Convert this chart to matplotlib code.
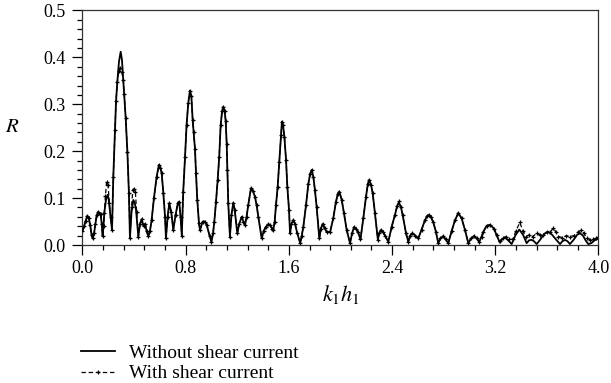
import matplotlib
matplotlib.use("Agg")
import matplotlib.pyplot as plt
from matplotlib.ticker import MultipleLocator, FormatStrFormatter

# ---- data ----
k_without = [
    0.000, 0.012, 0.025, 0.037, 0.048, 0.060, 0.070, 0.079, 0.090, 0.100,
    0.110, 0.123, 0.133, 0.141, 0.149, 0.156, 0.163, 0.169, 0.182, 0.195,
    0.202, 0.208, 0.218, 0.229, 0.239, 0.252, 0.260, 0.270, 0.283, 0.296,
    0.306, 0.316, 0.324, 0.335, 0.348, 0.360, 0.368, 0.380, 0.394, 0.405,
    0.415, 0.433, 0.446, 0.459, 0.473, 0.485, 0.497, 0.510, 0.523, 0.536,
    0.554, 0.575, 0.593, 0.604, 0.614, 0.627, 0.640, 0.647, 0.660, 0.673,
    0.688, 0.704, 0.722, 0.740, 0.750, 0.760, 0.770, 0.781, 0.795, 0.807,
    0.820, 0.833, 0.844, 0.854, 0.862, 0.872, 0.880, 0.890, 0.903, 0.911,
    0.932, 0.948, 0.963, 0.985, 1.000, 1.012, 1.022, 1.035, 1.048, 1.060,
    1.071, 1.082, 1.092, 1.102, 1.110, 1.118, 1.123, 1.130, 1.143, 1.155,
    1.169, 1.180, 1.200, 1.215, 1.234, 1.248, 1.260, 1.272, 1.285, 1.306,
    1.320, 1.337, 1.350, 1.363, 1.389, 1.405, 1.422, 1.440, 1.453, 1.470,
    1.479, 1.490, 1.500, 1.513, 1.526, 1.539, 1.546, 1.555, 1.565, 1.578,
    1.588, 1.601, 1.609, 1.620, 1.634, 1.648, 1.665, 1.688, 1.700, 1.712,
    1.733, 1.751, 1.765, 1.777, 1.790, 1.802, 1.815, 1.836, 1.848, 1.862,
    1.877, 1.893, 1.919, 1.944, 1.965, 1.978, 1.991, 2.009, 2.027, 2.048,
    2.074, 2.090, 2.105, 2.120, 2.135, 2.155, 2.177, 2.198, 2.212, 2.223,
    2.237, 2.250, 2.267, 2.290, 2.300, 2.314, 2.330, 2.345, 2.371, 2.397,
    2.422, 2.440, 2.453, 2.468, 2.482, 2.508, 2.526, 2.540, 2.557, 2.580,
    2.603, 2.629, 2.655, 2.672, 2.686, 2.700, 2.719, 2.740, 2.758, 2.775,
    2.797, 2.815, 2.836, 2.862, 2.888, 2.913, 2.939, 2.965, 2.991, 3.012,
    3.035, 3.055, 3.076, 3.094, 3.107, 3.133, 3.160, 3.190, 3.210, 3.236,
    3.255, 3.275, 3.300, 3.327, 3.355, 3.386, 3.415, 3.443, 3.462, 3.482,
    3.500, 3.521, 3.550, 3.580, 3.611, 3.640, 3.670, 3.702, 3.720, 3.740,
    3.760, 3.779, 3.810, 3.835, 3.857, 3.880, 3.900, 3.921, 3.945, 3.970,
    4.000,
]
r_without = [
    0.030, 0.040, 0.052, 0.062, 0.058, 0.042, 0.022, 0.014, 0.025, 0.045,
    0.063, 0.071, 0.066, 0.066, 0.045, 0.019, 0.040, 0.068, 0.096, 0.107,
    0.100, 0.085, 0.060, 0.032, 0.146, 0.245, 0.306, 0.348, 0.391, 0.412,
    0.395, 0.352, 0.321, 0.270, 0.199, 0.110, 0.014, 0.070, 0.096, 0.090,
    0.075, 0.018, 0.045, 0.055, 0.040, 0.045, 0.030, 0.019, 0.030, 0.053,
    0.100, 0.146, 0.171, 0.165, 0.153, 0.110, 0.060, 0.014, 0.060, 0.089,
    0.070, 0.032, 0.065, 0.090, 0.092, 0.060, 0.020, 0.114, 0.188, 0.256,
    0.303, 0.329, 0.318, 0.267, 0.240, 0.205, 0.153, 0.096, 0.046, 0.032,
    0.050, 0.050, 0.043, 0.020, 0.007, 0.025, 0.050, 0.092, 0.139, 0.188,
    0.255, 0.285, 0.295, 0.285, 0.265, 0.215, 0.160, 0.089, 0.018, 0.065,
    0.090, 0.075, 0.025, 0.045, 0.060, 0.050, 0.043, 0.060, 0.085, 0.121,
    0.116, 0.103, 0.085, 0.060, 0.014, 0.030, 0.039, 0.044, 0.043, 0.035,
    0.032, 0.050, 0.085, 0.124, 0.178, 0.235, 0.263, 0.255, 0.231, 0.181,
    0.124, 0.075, 0.025, 0.045, 0.053, 0.045, 0.025, 0.004, 0.020, 0.039,
    0.085, 0.131, 0.152, 0.160, 0.145, 0.117, 0.082, 0.014, 0.035, 0.045,
    0.036, 0.028, 0.027, 0.057, 0.092, 0.108, 0.114, 0.097, 0.068, 0.032,
    0.004, 0.025, 0.038, 0.035, 0.028, 0.012, 0.057, 0.103, 0.130, 0.139,
    0.128, 0.110, 0.068, 0.011, 0.025, 0.032, 0.028, 0.020, 0.007, 0.039,
    0.064, 0.084, 0.090, 0.082, 0.064, 0.025, 0.007, 0.020, 0.025, 0.020,
    0.014, 0.033, 0.053, 0.062, 0.064, 0.060, 0.049, 0.028, 0.004, 0.014,
    0.019, 0.012, 0.004, 0.030, 0.053, 0.068, 0.057, 0.032, 0.004, 0.014,
    0.019, 0.014, 0.007, 0.018, 0.028, 0.041, 0.043, 0.035, 0.021, 0.005,
    0.013, 0.016, 0.010, 0.002, 0.020, 0.033, 0.022, 0.004, 0.010, 0.011,
    0.008, 0.002, 0.012, 0.024, 0.028, 0.022, 0.012, 0.002, 0.008, 0.011,
    0.008, 0.002, 0.012, 0.022, 0.025, 0.020, 0.010, 0.002, 0.004, 0.010,
    0.014,
]

k_with = [
    0.000, 0.012, 0.025, 0.037, 0.048, 0.060, 0.070, 0.079, 0.090, 0.100,
    0.110, 0.123, 0.133, 0.141, 0.149, 0.156, 0.163, 0.169, 0.178, 0.187,
    0.198, 0.208, 0.218, 0.229, 0.239, 0.252, 0.260, 0.270, 0.281, 0.292,
    0.305, 0.316, 0.324, 0.335, 0.348, 0.360, 0.368, 0.380, 0.390, 0.400,
    0.410, 0.420, 0.433, 0.446, 0.459, 0.473, 0.485, 0.497, 0.510, 0.523,
    0.536, 0.554, 0.575, 0.593, 0.604, 0.614, 0.627, 0.640, 0.647, 0.660,
    0.673, 0.688, 0.704, 0.722, 0.740, 0.750, 0.760, 0.770, 0.781, 0.795,
    0.807, 0.820, 0.833, 0.844, 0.854, 0.862, 0.872, 0.880, 0.890, 0.903,
    0.911, 0.932, 0.948, 0.963, 0.985, 1.000, 1.012, 1.022, 1.035, 1.048,
    1.060, 1.071, 1.082, 1.092, 1.102, 1.110, 1.118, 1.123, 1.130, 1.143,
    1.155, 1.169, 1.180, 1.200, 1.215, 1.234, 1.248, 1.260, 1.272, 1.285,
    1.306, 1.320, 1.337, 1.350, 1.363, 1.389, 1.405, 1.422, 1.440, 1.453,
    1.470, 1.479, 1.490, 1.500, 1.513, 1.526, 1.539, 1.546, 1.555, 1.565,
    1.578, 1.588, 1.601, 1.609, 1.620, 1.634, 1.648, 1.665, 1.688, 1.700,
    1.712, 1.733, 1.751, 1.765, 1.777, 1.790, 1.802, 1.815, 1.836, 1.848,
    1.862, 1.877, 1.893, 1.919, 1.944, 1.965, 1.978, 1.991, 2.009, 2.027,
    2.048, 2.074, 2.090, 2.105, 2.120, 2.135, 2.155, 2.177, 2.198, 2.212,
    2.223, 2.237, 2.250, 2.267, 2.290, 2.300, 2.314, 2.330, 2.345, 2.371,
    2.397, 2.422, 2.440, 2.453, 2.468, 2.482, 2.508, 2.526, 2.540, 2.557,
    2.580, 2.603, 2.629, 2.655, 2.672, 2.686, 2.700, 2.719, 2.740, 2.758,
    2.775, 2.797, 2.815, 2.836, 2.862, 2.888, 2.913, 2.939, 2.965, 2.991,
    3.012, 3.035, 3.055, 3.076, 3.094, 3.107, 3.133, 3.160, 3.190, 3.210,
    3.236, 3.260, 3.285, 3.310, 3.335, 3.360, 3.390, 3.415, 3.440, 3.465,
    3.490, 3.520, 3.545, 3.572, 3.598, 3.625, 3.649, 3.670, 3.690, 3.720,
    3.752, 3.780, 3.810, 3.843, 3.862, 3.885, 3.910, 3.934, 3.960, 3.980,
    4.000,
]
r_with = [
    0.030, 0.040, 0.052, 0.062, 0.058, 0.042, 0.022, 0.014, 0.025, 0.045,
    0.063, 0.071, 0.066, 0.066, 0.045, 0.019, 0.040, 0.068, 0.105, 0.135,
    0.128, 0.090, 0.060, 0.032, 0.146, 0.245, 0.306, 0.348, 0.372, 0.378,
    0.368, 0.352, 0.321, 0.270, 0.199, 0.110, 0.014, 0.080, 0.117, 0.120,
    0.113, 0.070, 0.018, 0.045, 0.055, 0.040, 0.045, 0.030, 0.019, 0.030,
    0.053, 0.100, 0.146, 0.171, 0.165, 0.153, 0.110, 0.060, 0.014, 0.060,
    0.089, 0.070, 0.032, 0.065, 0.090, 0.092, 0.060, 0.020, 0.114, 0.188,
    0.256, 0.303, 0.329, 0.318, 0.267, 0.240, 0.205, 0.153, 0.096, 0.046,
    0.032, 0.050, 0.050, 0.043, 0.020, 0.007, 0.025, 0.050, 0.092, 0.139,
    0.188, 0.255, 0.285, 0.295, 0.285, 0.265, 0.215, 0.160, 0.089, 0.018,
    0.065, 0.090, 0.075, 0.025, 0.045, 0.060, 0.050, 0.043, 0.060, 0.085,
    0.121, 0.116, 0.103, 0.085, 0.060, 0.014, 0.030, 0.039, 0.044, 0.043,
    0.035, 0.032, 0.050, 0.085, 0.124, 0.178, 0.235, 0.263, 0.255, 0.231,
    0.181, 0.124, 0.075, 0.025, 0.045, 0.053, 0.045, 0.025, 0.004, 0.020,
    0.039, 0.085, 0.131, 0.152, 0.160, 0.145, 0.117, 0.082, 0.014, 0.035,
    0.045, 0.036, 0.028, 0.027, 0.057, 0.092, 0.108, 0.114, 0.097, 0.068,
    0.032, 0.004, 0.025, 0.038, 0.035, 0.028, 0.012, 0.057, 0.103, 0.130,
    0.139, 0.128, 0.110, 0.068, 0.011, 0.025, 0.032, 0.028, 0.020, 0.007,
    0.039, 0.064, 0.084, 0.093, 0.082, 0.064, 0.025, 0.007, 0.020, 0.025,
    0.020, 0.014, 0.033, 0.053, 0.062, 0.064, 0.060, 0.049, 0.028, 0.004,
    0.014, 0.019, 0.012, 0.004, 0.030, 0.053, 0.068, 0.057, 0.032, 0.004,
    0.014, 0.019, 0.014, 0.007, 0.018, 0.028, 0.041, 0.043, 0.035, 0.021,
    0.008, 0.016, 0.018, 0.012, 0.012, 0.030, 0.048, 0.030, 0.018, 0.022,
    0.018, 0.025, 0.022, 0.021, 0.028, 0.027, 0.036, 0.028, 0.018, 0.016,
    0.020, 0.018, 0.020, 0.028, 0.031, 0.026, 0.015, 0.011, 0.012, 0.014,
    0.018,
]

x_ticks = [0.0, 0.8, 1.6, 2.4, 3.2, 4.0]
y_ticks = [0.0, 0.1, 0.2, 0.3, 0.4, 0.5]
label_without = "Without shear current"
label_with = "With shear current"

# ---- figure ----
plt.rcParams['font.family'] = ['Liberation Serif', 'DejaVu Serif']
plt.rcParams['mathtext.fontset'] = 'stix'

fig = plt.figure(figsize=(6.11, 3.83), dpi=100)
ax = fig.add_axes([0.135, 0.3603, 0.8445, 0.6123])

ax.plot(k_with, r_with, color='black', lw=0.9, ls=(0, (3.5, 2.2)),
        marker='+', ms=2.6, mew=0.9, label=label_with, zorder=2)
ax.plot(k_without, r_without, color='black', lw=1.3, label=label_without,
        zorder=3)

ax.set_xlim(0, 4.0)
ax.set_ylim(0, 0.5)
ax.set_xticks(x_ticks)
ax.set_yticks(y_ticks)
ax.xaxis.set_minor_locator(MultipleLocator(0.16))
ax.yaxis.set_minor_locator(MultipleLocator(0.02))
ax.xaxis.set_major_formatter(FormatStrFormatter('%.1f'))
ax.yaxis.set_major_formatter(FormatStrFormatter('%.1f'))
ax.tick_params(axis='both', which='major', direction='out', length=7,
               width=0.9, labelsize=13, colors='black')
ax.tick_params(axis='both', which='minor', direction='out', length=3.8,
               width=0.9)
ax.tick_params(axis='x', which='major', pad=4)
ax.tick_params(axis='y', which='major', pad=5)
for sp in ax.spines.values():
    sp.set_linewidth(0.9)
    sp.set_color('#333333')

ax.set_xlabel(r'$k_1h_1$', fontsize=16, labelpad=4)
ax.set_ylabel(r'$R$', fontsize=15, rotation=0, va='center', ha='center')
ax.yaxis.set_label_coords(-0.137, 0.5)

lines = ax.get_lines()
h_with = lines[0]
h_without = lines[1]
fig.legend([h_without, h_with], [label_without, label_with],
           loc='upper left', bbox_to_anchor=(0.133, 0.101), frameon=False,
           fontsize=14, handlelength=1.75, handletextpad=0.7,
           labelspacing=0.15, numpoints=1, borderaxespad=0, borderpad=0)

fig.savefig('out.png', dpi=100)
